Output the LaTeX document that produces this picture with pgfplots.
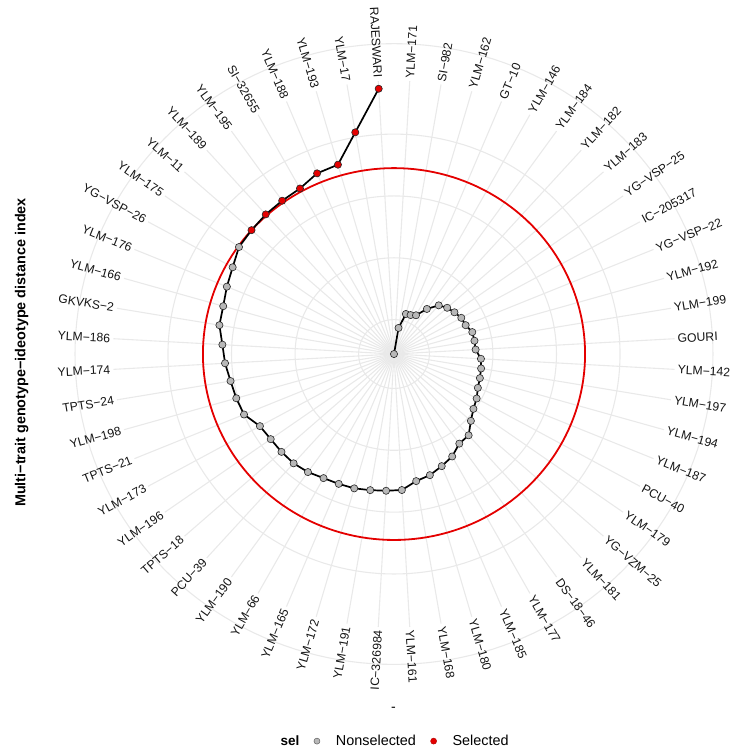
\documentclass[border=0pt]{standalone}
\usepackage{pgfplots}
\pgfplotsset{compat=1.18}
\usepackage{pgfplotstable}
\usepackage{fontspec}
\setmainfont{Liberation Sans}
\definecolor{gridc}{RGB}{233,233,233}
\definecolor{ptgray}{RGB}{184,184,184}
\definecolor{ptred}{RGB}{228,0,0}
\def\Mmax{2.778}
\def\cut{1.275}
% k = position around the circle (clockwise from top), M = MGIDI, sel = N/S
\pgfplotstableread{
k M sel
0 2.778 N
1 2.564 N
2 2.441 N
3 2.437 N
4 2.420 N
5 2.331 N
6 2.250 N
7 2.217 N
8 2.195 N
9 2.173 N
10 2.168 N
11 2.137 N
12 2.136 N
13 2.135 N
14 2.093 N
15 2.083 N
16 2.075 N
17 2.064 N
18 2.035 N
19 2.012 N
20 1.967 N
21 1.897 N
22 1.890 N
23 1.832 N
24 1.797 N
25 1.759 N
26 1.736 N
27 1.677 N
28 1.671 N
29 1.662 N
30 1.648 N
31 1.642 N
32 1.632 N
33 1.608 N
34 1.593 N
35 1.591 N
36 1.589 N
37 1.573 N
38 1.501 N
39 1.487 N
40 1.474 N
41 1.447 N
42 1.426 N
43 1.385 N
44 1.380 N
45 1.355 N
46 1.328 N
47 1.283 N
48 1.275 S
49 1.264 S
50 1.258 S
51 1.249 S
52 1.197 S
53 1.185 S
54 0.960 S
55 0.630 S
}\mgidi
\newcommand\lab[2]{%
\ifnum#1<28
\node[lbl, anchor=west, rotate={atan2(0.973*cos((#1+0.5)*6.428571),sin((#1+0.5)*6.428571))}]
 at (axis cs:{2.234*sin((#1+0.5)*6.428571)},{2.234*cos((#1+0.5)*6.428571)}) {#2};%
\else
\node[lbl, anchor=east, rotate={180+atan2(0.973*cos((#1+0.5)*6.428571),sin((#1+0.5)*6.428571))}]
 at (axis cs:{2.234*sin((#1+0.5)*6.428571)},{2.234*cos((#1+0.5)*6.428571)}) {#2};%
\fi}
\begin{document}
\begin{tikzpicture}[lbl/.style={font=\fontsize{12.2}{14}\selectfont, inner sep=0pt, text=black!92}]
\begin{axis}[
  x=127.13pt, y=123.7pt,
  xmin=-3.099, xmax=2.682, ymin=-3.217, ymax=2.862,
  hide axis, clip=false,
  legend columns=-1,
  legend cell align=left,
  legend image code/.code={\path[draw=none, fill=none] (0pt,-3pt) rectangle (24pt,3pt); \draw[#1] plot coordinates {(7pt,0pt)};},
  legend style={at={(axis cs:0.005,-3.129)}, anchor=center, draw=none, fill=none,
    font=\fontsize{14.4}{16}\selectfont, nodes={inner sep=2pt},
    /tikz/every even column/.append style={column sep=8.6pt}},
]
\path (rel axis cs:0,0) rectangle (rel axis cs:1,1);
% radial grid lines
\pgfplotsinvokeforeach{0,...,55}{%
  \draw[gridc, line width=1.1pt] (axis cs:0,0) -- (axis cs:{2.21*sin((#1+0.5)*6.428571)},{2.21*cos((#1+0.5)*6.428571)});
}
% circular grid lines
\pgfplotsinvokeforeach{2.5,2.0,1.5,1.0}{%
  \addplot[gridc, line width=1.1pt, domain=0:360, samples=181, forget plot] ({(\Mmax-#1)*sin(x)},{(\Mmax-#1)*cos(x)});
}
\addplot[gridc, line width=1.1pt, domain=0:360, samples=181, forget plot] ({2.509*sin(x)},{2.509*cos(x)});
% cut point
\addplot[ptred, line width=1.8pt, domain=0:360, samples=181, forget plot] ({(\Mmax-\cut)*sin(x)},{(\Mmax-\cut)*cos(x)});
% path
\addplot[black, line width=1.7pt, mark=none, forget plot] table[
  x expr={(\Mmax-\thisrow{M})*sin((\thisrow{k}+0.5)*6.428571)},
  y expr={(\Mmax-\thisrow{M})*cos((\thisrow{k}+0.5)*6.428571)}] {\mgidi};
% points
\addplot[scatter, only marks, forget plot, scatter src=explicit symbolic,
  scatter/classes={N={mark=*, mark size=3.6pt, fill=ptgray, draw=black!85, line width=0.6pt},
                   S={mark=*, mark size=3.6pt, fill=ptred, draw=black!85, line width=0.6pt}}]
  table[meta=sel,
  x expr={(\Mmax-\thisrow{M})*sin((\thisrow{k}+0.5)*6.428571)},
  y expr={(\Mmax-\thisrow{M})*cos((\thisrow{k}+0.5)*6.428571)}] {\mgidi};
% labels
\lab{0}{YLM−171}\lab{1}{SI−982}\lab{2}{YLM−162}\lab{3}{GT−10}\lab{4}{YLM−146}
\lab{5}{YLM−184}\lab{6}{YLM−182}\lab{7}{YLM−183}\lab{8}{YG−VSP−25}\lab{9}{IC−205317}
\lab{10}{YG−VSP−22}\lab{11}{YLM−192}\lab{12}{YLM−199}\lab{13}{GOURI}\lab{14}{YLM−142}
\lab{15}{YLM−197}\lab{16}{YLM−194}\lab{17}{YLM−187}\lab{18}{PCU−40}\lab{19}{YLM−179}
\lab{20}{YG−VZM−25}\lab{21}{YLM−181}\lab{22}{DS−18−46}\lab{23}{YLM−177}\lab{24}{YLM−185}
\lab{25}{YLM−180}\lab{26}{YLM−168}\lab{27}{YLM−161}\lab{28}{IC−326984}\lab{29}{YLM−191}
\lab{30}{YLM−172}\lab{31}{YLM−165}\lab{32}{YLM−66}\lab{33}{YLM−190}\lab{34}{PCU−39}
\lab{35}{TPTS−18}\lab{36}{YLM−196}\lab{37}{YLM−173}\lab{38}{TPTS−21}\lab{39}{YLM−198}
\lab{40}{TPTS−24}\lab{41}{YLM−174}\lab{42}{YLM−186}\lab{43}{GKVKS−2}\lab{44}{YLM−166}
\lab{45}{YLM−176}\lab{46}{YG−VSP−26}\lab{47}{YLM−175}\lab{48}{YLM−11}\lab{49}{YLM−189}
\lab{50}{YLM−195}\lab{51}{SI−32655}\lab{52}{YLM−188}\lab{53}{YLM−193}\lab{54}{YLM−17}
\lab{55}{RAJESWARI}
% axis titles
\node[rotate=90, font=\bfseries\fontsize{14.4}{16}\selectfont, inner sep=0pt] at (axis cs:-2.928,0.012) {Multi−trait genotype−ideotype distance index};
\node[font=\fontsize{14}{16}\selectfont, inner sep=0pt] at (axis cs:-0.005,-2.870) {-};
% legend
\addlegendimage{empty legend}
\addlegendentry{\textbf{\fontsize{13.5}{16}\selectfont sel}}
\addlegendimage{only marks, mark=*, mark size=3pt, mark options={fill=ptgray, draw=gray!75!black, line width=0.5pt}}
\addlegendentry{Nonselected}
\addlegendimage{only marks, mark=*, mark size=3pt, mark options={fill=ptred, draw=ptred!80!black, line width=0.5pt}}
\addlegendentry{Selected}
\end{axis}
\end{tikzpicture}
\end{document}
